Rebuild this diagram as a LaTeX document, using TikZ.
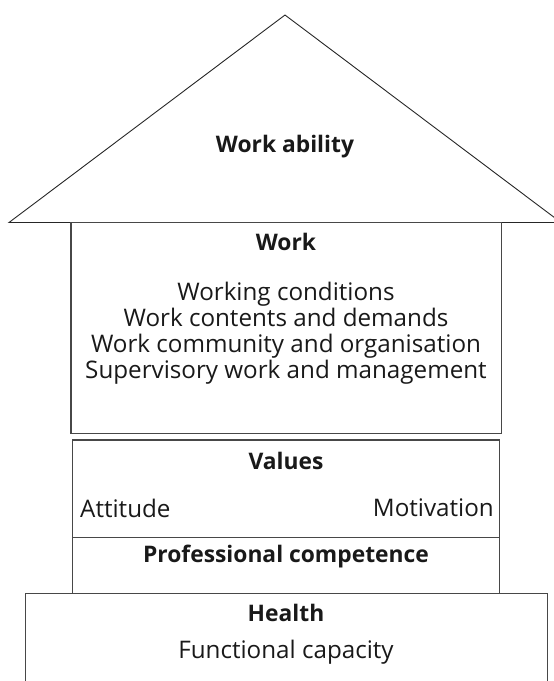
\documentclass[tikz,border=0pt]{standalone}
\usepackage{fontspec}
\setmainfont{Open Sans}
\begin{document}
\begin{tikzpicture}[x=1pt,y=-1pt,
  frame/.style={draw=black!72,line width=1.3pt},
  rooff/.style={draw=black!85,line width=0.9pt},
  txt/.style={font=\fontsize{24.2}{26}\selectfont,inner sep=0pt,align=center,text=black!90},
  btxt/.style={font=\fontsize{22.8}{26}\selectfont\bfseries,inner sep=0pt,align=center,text=black!90}]
\useasboundingbox (0,0) rectangle (554,681);
\clip (0,0) rectangle (554,681);
% roof
\coordinate (apex) at (285,15);
\coordinate (rl) at (9,222.5);
\coordinate (rr) at (561,222.5);
\draw[rooff,line join=miter] (rl) -- (apex) -- (rr) -- cycle;
\node[btxt] (wa) at (285,147) {Work ability};
% work box
\node[frame,minimum width=430.7pt,minimum height=210.8pt,inner sep=0pt] (work) at (286.35,327.9) {};
\node[btxt] (workt) at (286,242) {Work};
\node[txt] (workl) at (286,333) {Working conditions\\Work contents and demands\\Work community and organisation\\Supervisory work and management};
% values box
\node[frame,minimum width=426.8pt,minimum height=97.7pt,inner sep=0pt] (values) at (286.1,488.85) {};
\node[frame,minimum width=426.8pt,minimum height=55.6pt,inner sep=0pt] (comp) at (286.1,565.5) {};
\node[btxt] (valt) at (286,461) {Values};
\node[txt,anchor=west] (att) at (80,508) {Attitude};
\node[txt,anchor=east] (mot) at (494,508) {Motivation};
\node[btxt] (compt) at (286,557) {Professional competence};
% health box (open at bottom)
\coordinate (hbl) at (25.3,700);
\coordinate (htl) at (25.3,593.3);
\coordinate (htr) at (547.3,593.3);
\coordinate (hbr) at (547.3,700);
\draw[frame] (hbl) -- (htl) -- (htr) -- (hbr);
\node[btxt] (ht) at (286,613) {Health};
\node[txt] (fc) at (286,652) {Functional capacity};
\end{tikzpicture}
\end{document}
